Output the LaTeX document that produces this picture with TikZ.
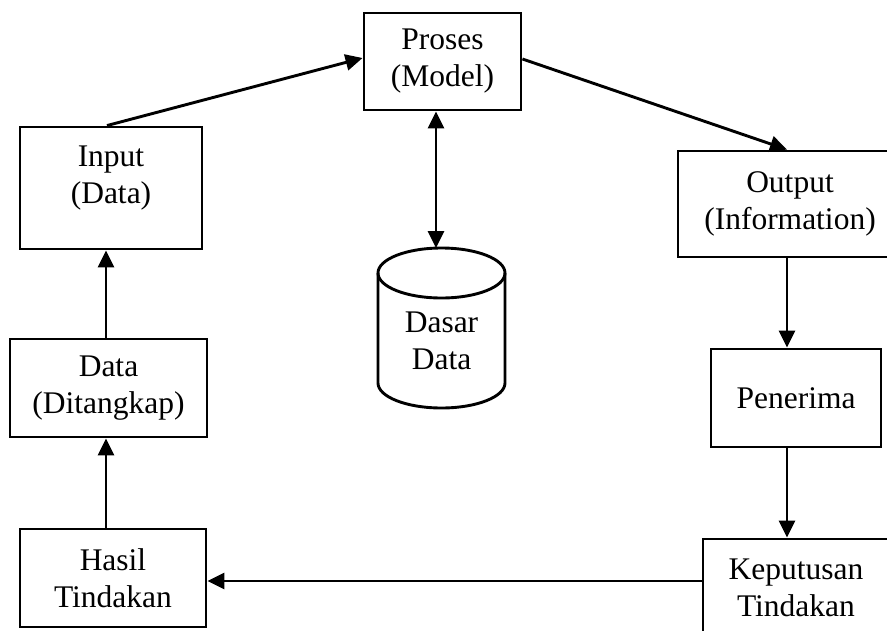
\documentclass[tikz,border=0pt]{standalone}
\usepackage{fontspec}
\setmainfont{Liberation Serif}
\usetikzlibrary{arrows.meta}
\begin{document}
\begin{tikzpicture}[x=1pt,y=-1pt,
  lbl/.style={align=center, inner sep=0pt, font=\fontsize{31.5}{37}\selectfont},
  box/.style={lbl, draw, line width=2.9pt},
  arr/.style={line width=2.9pt, -{Triangle[length=17pt,width=16pt]}},
  arrboth/.style={line width=2.9pt, {Triangle[length=17pt,width=16pt]}-{Triangle[length=17pt,width=16pt]}},
  ]
\useasboundingbox (0,0) rectangle (887,630);
\clip (0,0) rectangle (887,630);

\node[box, minimum width=157pt, minimum height=97pt] (pro) at (442.5,61.5) {Proses\\(Model)};
\node[box, minimum width=182pt, minimum height=122pt] (inp) at (111,188) {};
\node[lbl] (inptxt) at (111,178) {Input\\(Data)};
\node[box, minimum width=224pt, minimum height=106pt] (out) at (790,204) {Output\\(Information)};
\node[box, minimum width=197pt, minimum height=98pt] (dat) at (108.5,388) {Data\\(Ditangkap)};
\node[box, minimum width=170pt, minimum height=98pt] (pen) at (796,398) {Penerima};
\node[box, minimum width=186pt, minimum height=98pt] (has) at (113,578) {Hasil\\Tindakan};
\node[box, minimum width=186pt, minimum height=98pt] (kep) at (796,588) {Keputusan\\Tindakan};

% database cylinder
\draw[line width=2.9pt] (441.5,273) ellipse [x radius=63.5pt, y radius=25pt];
\draw[line width=2.9pt] (378,273) -- (378,383)
  arc[start angle=180, end angle=360, x radius=63.5pt, y radius=25pt] -- (505,273);
\node[lbl] (dasar) at (441.5,341) {Dasar\\Data};
\coordinate (cyltop) at (436,248);

% connectors
\draw[arr] ([xshift=-4pt]inp.north) -- ([yshift=3.5pt]pro.west);
\draw[arr] ([yshift=2.5pt]pro.east) -- ([xshift=-3pt]out.north);
\draw[arrboth] ([xshift=-6.5pt]pro.south) -- (cyltop);
\draw[arr] ([xshift=-3pt]out.south) -- ([xshift=-9pt]pen.north);
\draw[arr] ([xshift=-9pt]pen.south) -- ([xshift=-9pt]kep.north);
\draw[arr] ([yshift=7pt]kep.west) -- ([yshift=-3pt]has.east);
\draw[arr] ([xshift=-7pt]has.north) -- ([xshift=-2.5pt]dat.south);
\draw[arr] ([xshift=-2.5pt]dat.north) -- ([xshift=-5pt]inp.south);
\end{tikzpicture}
\end{document}
